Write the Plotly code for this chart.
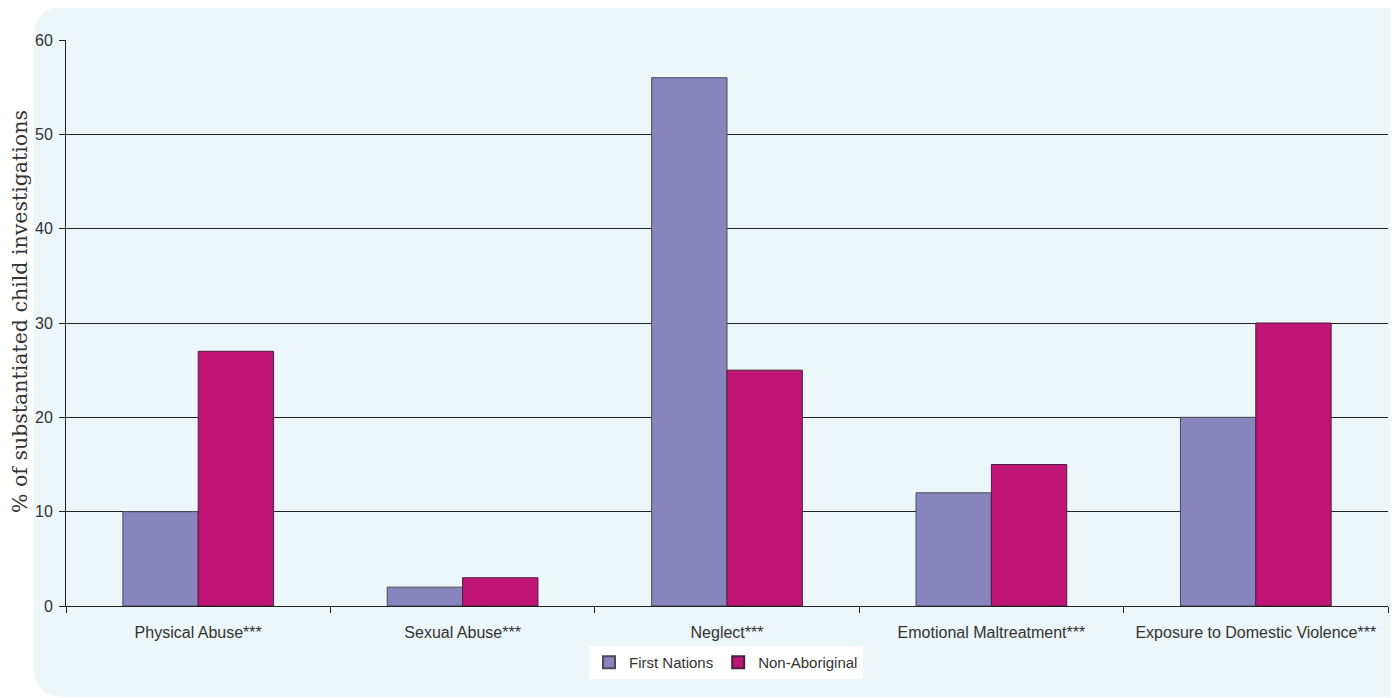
import plotly.graph_objects as go

categories = ["Physical Abuse***", "Sexual Abuse***", "Neglect***",
              "Emotional Maltreatment***", "Exposure to Domestic Violence***"]
first_nations = [10, 2, 56, 12, 20]
non_aboriginal = [27, 3, 25, 15, 30]
y_ticks = [0, 10, 20, 30, 40, 50, 60]

OFF = 8  # page body margin
W, H = 1398 - OFF, 698 - OFF
L, R, T, B = 66 - OFF, 10, 40 - OFF, 92
pw, ph = W - L - R, H - T - B

def px(x):  # page pixel -> paper
    return (x - OFF - L) / pw

def py(y):
    return (H - B - (y - OFF)) / ph

fig = go.Figure()
fig.add_bar(x=categories, y=first_nations, name="First Nations",
            marker=dict(color="#8884BD", line=dict(color="#4a4a5a", width=1)))
fig.add_bar(x=categories, y=non_aboriginal, name="Non-Aboriginal",
            marker=dict(color="#C01577", line=dict(color="#4a2040", width=1)))

# rounded background panel
x0, x1, y0, y1, r = 34, 1420, 7, 697, 30
path = (f"M {px(x0+r)} {py(y0)} L {px(x1)} {py(y0)} "
        f"L {px(x1)} {py(y1)} L {px(x0+r)} {py(y1)} "
        f"Q {px(x0)} {py(y1)} {px(x0)} {py(y1-r)} "
        f"L {px(x0)} {py(y0+r)} Q {px(x0)} {py(y0)} {px(x0+r)} {py(y0)} Z")
fig.add_shape(type="path", path=path, xref="paper", yref="paper",
              fillcolor="#EDF6F8", line=dict(width=0), layer="below")

fig.add_annotation(text="% of substantiated child investigations", textangle=-90,
                   xref="paper", yref="paper", x=px(20), y=py(312),
                   xanchor="center", yanchor="middle", showarrow=False,
                   font=dict(family="DejaVu Serif, Liberation Serif", size=20.5, color="#333333"))

fig.update_layout(
    width=W, height=H,
    margin=dict(l=L, r=R, t=T, b=B),
    paper_bgcolor="white", plot_bgcolor="rgba(0,0,0,0)",
    barmode="group", bargap=0.43, bargroupgap=0,
    font=dict(family="Liberation Sans, Arial", size=15, color="#333333"),
    legend=dict(orientation="h", x=px(726), xanchor="center", y=py(646), yanchor="top",
                bgcolor="white", font=dict(size=15, color="#333333"),
                itemsizing="constant", traceorder="normal", itemwidth=30,
                tracegroupgap=0),
    xaxis=dict(showgrid=False, showline=True, linecolor="#222222", linewidth=1,
               ticks="outside", tickson="boundaries", ticklen=6, tickcolor="#222222",
               tickfont=dict(size=16), ticklabelstandoff=12),
    yaxis=dict(range=[0, 60], tickvals=y_ticks, showgrid=True, gridcolor="#222222",
               gridwidth=1, showline=True, linecolor="#222222", linewidth=1,
               ticks="outside", ticklen=6, tickcolor="#222222", zeroline=False,
               tickfont=dict(size=16), ticklabelstandoff=3),
)
fig.write_html("out.html")
